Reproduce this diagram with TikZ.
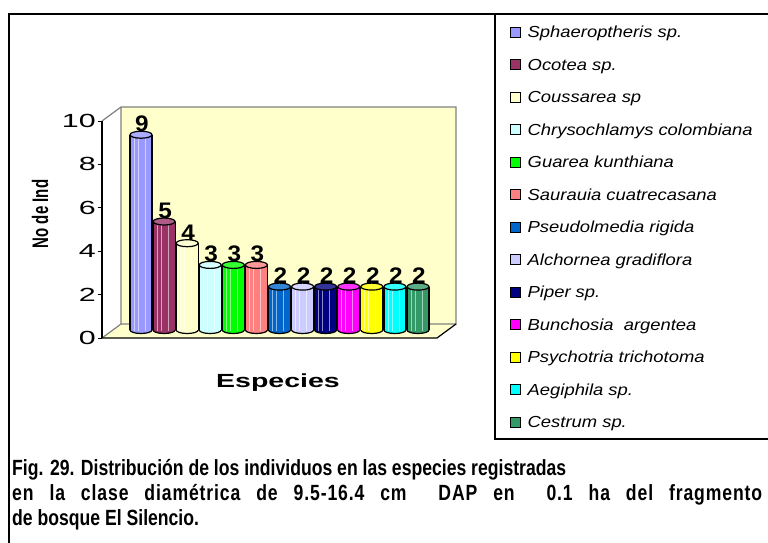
\documentclass[tikz,border=0pt]{standalone}
\usepackage{fontspec}
\setmainfont{Liberation Sans}
\newfontfamily\tickfont[FakeStretch=1.6]{Liberation Sans}
\newfontfamily\chartfont[FakeStretch=1.5]{Liberation Sans}
\newfontfamily\valfont[FakeStretch=1.08]{Liberation Sans}
\newfontfamily\yfont[FakeStretch=0.667]{Liberation Sans}
\newfontfamily\legfont[FakeStretch=1.15]{Liberation Sans}
\newfontfamily\capfont[FakeStretch=0.8]{Liberation Sans}
\newfontfamily\capwidefont[FakeStretch=0.8,LetterSpace=4]{Liberation Sans}
\usetikzlibrary{positioning}
\definecolor{sphae}{HTML}{9999FF}
\definecolor{ocot}{HTML}{993366}
\definecolor{couss}{HTML}{FFFFCC}
\definecolor{chrys}{HTML}{CCFFFF}
\definecolor{guar}{HTML}{00FF00}
\definecolor{saur}{HTML}{FF8080}
\definecolor{pseud}{HTML}{0066CC}
\definecolor{alch}{HTML}{CCCCFF}
\definecolor{piper}{HTML}{000080}
\definecolor{bunch}{HTML}{FF00FF}
\definecolor{psych}{HTML}{FFFF00}
\definecolor{aegi}{HTML}{00FFFF}
\definecolor{cestr}{HTML}{339966}
\definecolor{wallfill}{HTML}{FFFFCC}
\definecolor{wallgray}{HTML}{808080}
\newcommand{\colbar}[4]{%
  \filldraw[fill=#3,line width=1.2pt] (#1,330) ellipse [x radius=11,y radius=3.5];
  \fill[#3] (#1-11,{330-#2*21.7}) rectangle (#1+11,330);
  \draw[#3!45!white,line width=0.7pt] (#1-7,{330-#2*21.7}) -- (#1-7,331) (#1-3,{330-#2*21.7}) -- (#1-3,331) (#1+4,{330-#2*21.7}) -- (#1+4,331);
  \draw[line width=1.2pt] (#1-11,{330-#2*21.7}) -- (#1-11,330) (#1+11,{330-#2*21.7}) -- (#1+11,330);
  \filldraw[fill=#3!80!white,line width=1.2pt] (#1,{330-#2*21.7}) ellipse [x radius=11,y radius=3.5];
  \node[vallabel] (#4) at (#1+1,{330-#2*21.7-3}) {#2};
}
\begin{document}
\begin{tikzpicture}[x=1pt,y=-1pt,
  vallabel/.style={anchor=south,inner sep=0,font=\valfont\fontsize{22.5}{22.5}\selectfont\bfseries},
  ticklabel/.style={anchor=east,inner sep=0,font=\tickfont\fontsize{19}{19}\selectfont},
  legkey/.style={draw,line width=1pt,minimum size=10pt,inner sep=0},
  legtxt/.style={inner sep=0,text height=11.5pt,text depth=0pt,font=\legfont\itshape\fontsize{16}{16}\selectfont},
  captxt/.style={anchor=base west,inner sep=0,font=\capfont\fontsize{22}{22}\selectfont\bfseries}]
        \useasboundingbox (0,0) rectangle (768,542);
        \clip (0,0) rectangle (768,542);
        \fill[white] (0,0) rectangle (768,542);
        \draw[line width=1.3pt] (9,560) -- (9,14) -- (780,14);
        \draw[line width=1.3pt] (780,439) -- (495,439) -- (495,14);
        \fill[wallfill] (121,107) rectangle (456,324);
        \fill[wallfill] (102,338) -- (121,324) -- (456,324) -- (437,338) -- cycle;
        \draw[wallgray,line width=1.2pt] (102,121) -- (121,107) -- (456,107) -- (456,324) -- (121,324) -- (121,107);
        \draw[wallgray,line width=1.2pt] (121,324) -- (102,338);
        \draw[line width=1.2pt] (102,338) -- (437,338) -- (456,324);
        \draw[line width=1.2pt] (102,121) -- (102,338);
        \draw[line width=1pt] (98,338) -- (102,338);
        \draw[line width=1pt] (98,294.6) -- (102,294.6);
        \draw[line width=1pt] (98,251.2) -- (102,251.2);
        \draw[line width=1pt] (98,207.8) -- (102,207.8);
        \draw[line width=1pt] (98,164.4) -- (102,164.4);
        \draw[line width=1pt] (98,121) -- (102,121);
        \node[ticklabel] (y0) at (96,338) {0};
        \node[ticklabel] (y2) at (96,294.6) {2};
        \node[ticklabel] (y4) at (96,251.2) {4};
        \node[ticklabel] (y6) at (96,207.8) {6};
        \node[ticklabel] (y8) at (96,164.4) {8};
        \node[ticklabel] (y10) at (96,121) {10};
        \colbar{141}{9}{sphae}{v1}
        \colbar{164.1}{5}{ocot}{v2}
        \colbar{187.2}{4}{couss}{v3}
        \colbar{210.2}{3}{chrys}{v4}
        \colbar{233.3}{3}{guar}{v5}
        \colbar{256.4}{3}{saur}{v6}
        \colbar{279.5}{2}{pseud}{v7}
        \colbar{302.6}{2}{alch}{v8}
        \colbar{325.6}{2}{piper}{v9}
        \colbar{348.7}{2}{bunch}{v10}
        \colbar{371.8}{2}{psych}{v11}
        \colbar{394.9}{2}{aegi}{v12}
        \colbar{418}{2}{cestr}{v13}
        \node[font=\chartfont\fontsize{19}{19}\selectfont\bfseries] (xlab) at (278,383) {Especies};
        \node[rotate=90,font=\yfont\fontsize{22.5}{22.5}\selectfont\bfseries] (ylab) at (40,214) {No de Ind};
        \node[legkey,fill=sphae] (k1) at (515,32) {};
        \node[legkey,fill=ocot] (k2) at (515,64.5) {};
        \node[legkey,fill=couss] (k3) at (515,97) {};
        \node[legkey,fill=chrys] (k4) at (515,129.5) {};
        \node[legkey,fill=guar] (k5) at (515,162) {};
        \node[legkey,fill=saur] (k6) at (515,194.5) {};
        \node[legkey,fill=pseud] (k7) at (515,227) {};
        \node[legkey,fill=alch] (k8) at (515,259.5) {};
        \node[legkey,fill=piper] (k9) at (515,292) {};
        \node[legkey,fill=bunch] (k10) at (515,324.5) {};
        \node[legkey,fill=psych] (k11) at (515,357) {};
        \node[legkey,fill=aegi] (k12) at (515,389.5) {};
        \node[legkey,fill=cestr] (k13) at (515,422) {};
        \node[legtxt,right=7pt of k1] (t1) {Sphaeroptheris sp.};
        \node[legtxt,right=7pt of k2] (t2) {Ocotea sp.};
        \node[legtxt,right=7pt of k3] (t3) {Coussarea sp};
        \node[legtxt,right=7pt of k4] (t4) {Chrysochlamys colombiana};
        \node[legtxt,right=7pt of k5] (t5) {Guarea kunthiana};
        \node[legtxt,right=7pt of k6] (t6) {Saurauia cuatrecasana};
        \node[legtxt,right=7pt of k7] (t7) {Pseudolmedia rigida};
        \node[legtxt,right=7pt of k8] (t8) {Alchornea gradiflora};
        \node[legtxt,right=7pt of k9] (t9) {Piper sp.};
        \node[legtxt,right=7pt of k10] (t10) {Bunchosia\ \ argentea};
        \node[legtxt,right=7pt of k11] (t11) {Psychotria trichotoma};
        \node[legtxt,right=7pt of k12] (t12) {Aegiphila sp.};
        \node[legtxt,right=7pt of k13] (t13) {Cestrum sp.};
        \node[captxt] (cap1) at (12,475) {Fig. 29. Distribución de los individuos en las especies registradas};
        \node[captxt,font=\capwidefont\fontsize{22}{22}\selectfont\bfseries] (cap2) at (12,500) {\makebox[750pt][s]{en la clase diamétrica de 9.5-16.4 cm\ \ DAP en\ \ 0.1 ha del fragmento}};
        \node[captxt] (cap3) at (12,525) {de bosque El Silencio.};
\end{tikzpicture}
\end{document}
